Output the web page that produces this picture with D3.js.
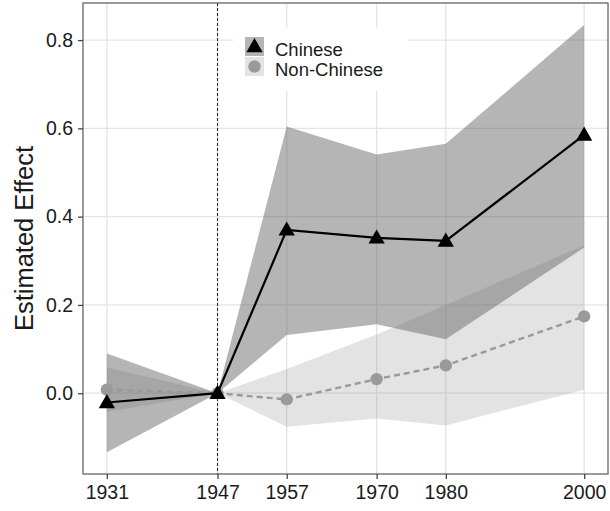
<!DOCTYPE html>
<html>
<head>
<meta charset="utf-8">
<script src="https://cdn.jsdelivr.net/npm/d3@7"></script>
<style>
  html, body { margin: 0; padding: 0; background: #fff; }
  svg { display: block; font-family: "Liberation Sans", Arial, Helvetica, sans-serif; }
</style>
</head>
<body>
<svg id="chart" width="610" height="511"></svg>
<script>
// Census years on the x axis
const years = [1931, 1947, 1957, 1970, 1980, 2000];

// Chinese: estimate with lower / upper confidence bounds
const chineseEst   = [-0.021, 0, 0.370, 0.352, 0.345, 0.585];
const chineseLower = [-0.134, 0, 0.132, 0.156, 0.122, 0.330];
const chineseUpper = [ 0.090, 0, 0.604, 0.541, 0.565, 0.834];

// Non-Chinese: estimate with lower / upper confidence bounds
const nonChineseEst   = [ 0.008, 0, -0.014, 0.032, 0.063, 0.174];
const nonChineseLower = [-0.042, 0, -0.076, -0.057, -0.073, 0.008];
const nonChineseUpper = [ 0.058, 0,  0.055, 0.133, 0.200, 0.335];

const yTicks = [0, 0.2, 0.4, 0.6, 0.8];
const seriesNames = ["Chinese", "Non-Chinese"];
const referenceYear = 1947;

const svg = d3.select("#chart");
const panel = { left: 83, right: 608, top: 3, bottom: 474 };

const xPad = (years[years.length - 1] - years[0]) * 0.05;
const x = d3.scaleLinear()
  .domain([years[0] - xPad, years[years.length - 1] + xPad])
  .range([panel.left, panel.right]);
const y = d3.scaleLinear()
  .domain([-0.183, 0.884])
  .range([panel.bottom, panel.top]);

// Panel background
svg.append("rect")
  .attr("x", panel.left).attr("y", panel.top)
  .attr("width", panel.right - panel.left).attr("height", panel.bottom - panel.top)
  .attr("fill", "#fff");

// Grid lines
const grid = svg.append("g");
grid.selectAll("line.h").data(yTicks).join("line")
  .attr("x1", panel.left).attr("x2", panel.right)
  .attr("y1", d => y(d)).attr("y2", d => y(d))
  .attr("stroke", "#e4e4e4").attr("stroke-width", 1.3);
grid.selectAll("line.v").data(years).join("line")
  .attr("y1", panel.top).attr("y2", panel.bottom)
  .attr("x1", d => x(d)).attr("x2", d => x(d))
  .attr("stroke", "#e4e4e4").attr("stroke-width", 1.3);

// Build rows for each series
const chinese = years.map((yr, i) => ({ yr, est: chineseEst[i], lo: chineseLower[i], hi: chineseUpper[i] }));
const nonChinese = years.map((yr, i) => ({ yr, est: nonChineseEst[i], lo: nonChineseLower[i], hi: nonChineseUpper[i] }));

const area = d3.area().x(d => x(d.yr)).y0(d => y(d.lo)).y1(d => y(d.hi));
const line = d3.line().x(d => x(d.yr)).y(d => y(d.est));

// Confidence ribbons (semi-transparent so overlaps darken)
svg.append("path").datum(nonChinese).attr("d", area)
  .attr("fill", "#8c8c8c").attr("fill-opacity", 0.24);
svg.append("path").datum(chinese).attr("d", area)
  .attr("fill", "#5a5a5a").attr("fill-opacity", 0.45);

// Reference year marker
svg.append("line")
  .attr("x1", x(referenceYear)).attr("x2", x(referenceYear))
  .attr("y1", panel.top).attr("y2", panel.bottom)
  .attr("stroke", "#222").attr("stroke-width", 1)
  .attr("stroke-dasharray", "3,2");

// Non-Chinese estimate: dashed line with circles
svg.append("path").datum(nonChinese).attr("d", line)
  .attr("fill", "none").attr("stroke", "#999").attr("stroke-width", 2.4)
  .attr("stroke-dasharray", "6,4");
svg.selectAll("circle.nc").data(nonChinese).join("circle")
  .attr("cx", d => x(d.yr)).attr("cy", d => y(d.est)).attr("r", 6.2)
  .attr("fill", "#9a9a9a");

// Chinese estimate: solid line with triangles
svg.append("path").datum(chinese).attr("d", line)
  .attr("fill", "none").attr("stroke", "#000").attr("stroke-width", 2.2);
const tri = d3.symbol().type(d3.symbolTriangle).size(115);
svg.selectAll("path.tri").data(chinese).join("path")
  .attr("transform", d => `translate(${x(d.yr)},${y(d.est) + 1})`)
  .attr("d", tri).attr("fill", "#000");

// Legend
const lg = svg.append("g");
lg.append("rect").attr("x", 233).attr("y", 28).attr("width", 175).attr("height", 63).attr("fill", "#fff");
const keyX = 245, keyY = [37, 57], keySize = 19;
lg.append("rect").attr("x", keyX).attr("y", keyY[0]).attr("width", keySize).attr("height", keySize)
  .attr("fill", "#5a5a5a").attr("fill-opacity", 0.45);
lg.append("rect").attr("x", keyX).attr("y", keyY[1]).attr("width", keySize).attr("height", keySize)
  .attr("fill", "#8c8c8c").attr("fill-opacity", 0.24);
lg.append("path").attr("d", tri)
  .attr("transform", `translate(${keyX + keySize / 2},${keyY[0] + keySize / 2 + 1})`).attr("fill", "#000");
lg.append("circle").attr("cx", keyX + keySize / 2).attr("cy", keyY[1] + keySize / 2).attr("r", 6.2).attr("fill", "#9a9a9a");
lg.selectAll("text").data(seriesNames).join("text")
  .attr("x", 275).attr("y", (d, i) => keyY[i] + keySize - 0.5)
  .attr("font-size", 18.5).attr("fill", "#1a1a1a")
  .text(d => d);

// Panel border
svg.append("rect")
  .attr("x", panel.left).attr("y", panel.top)
  .attr("width", panel.right - panel.left).attr("height", panel.bottom - panel.top)
  .attr("fill", "none").attr("stroke", "#666").attr("stroke-width", 1.3);

// Axes
const xAxis = d3.axisBottom(x).tickValues(years).tickFormat(d3.format("d")).tickSize(5).tickPadding(6);
const yAxis = d3.axisLeft(y).tickValues(yTicks).tickFormat(d3.format(".1f")).tickSize(5).tickPadding(5);

const gx = svg.append("g").attr("transform", `translate(0,${panel.bottom})`).call(xAxis);
const gy = svg.append("g").attr("transform", `translate(${panel.left},0)`).call(yAxis);
[gx, gy].forEach(g => {
  g.select(".domain").remove();
  g.selectAll(".tick line").attr("stroke", "#444").attr("stroke-width", 1.3);
  g.selectAll(".tick text").attr("font-size", 19.5).attr("fill", "#1a1a1a")
    .attr("font-family", "'Liberation Sans', Arial, sans-serif");
});

// Y axis title
svg.append("text")
  .attr("transform", `translate(33,${(145 + 332) / 2}) rotate(-90)`)
  .attr("text-anchor", "middle").attr("font-size", 25.5).attr("fill", "#1a1a1a")
  .text("Estimated Effect");
</script>
</body>
</html>
